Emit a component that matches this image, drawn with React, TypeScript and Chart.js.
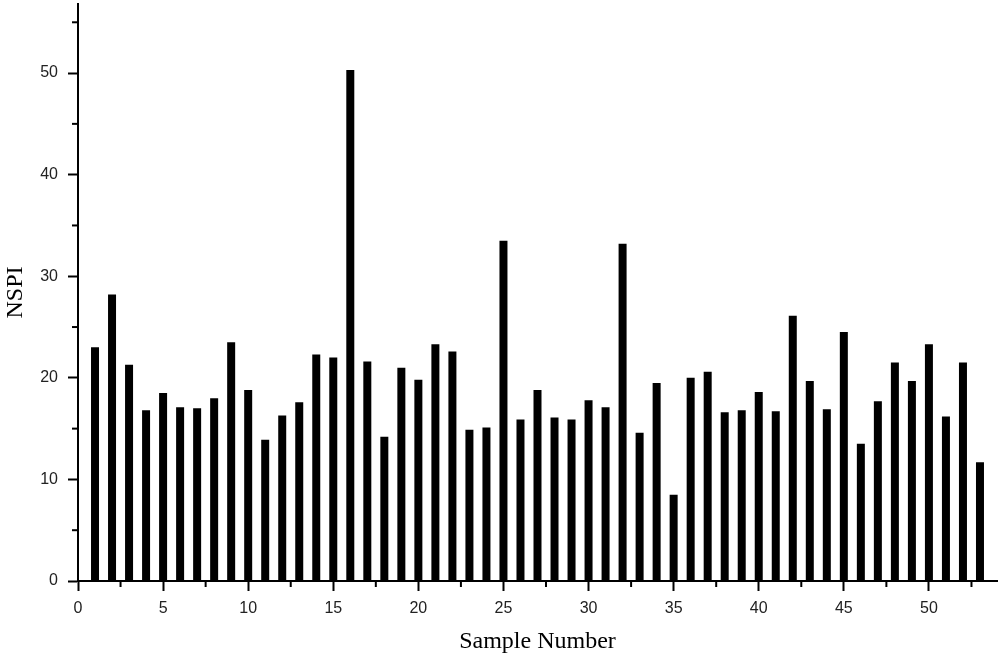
import React, { useEffect, useRef } from "react";
import { Chart, registerables } from "chart.js";

Chart.register(...registerables);

const sampleNumbers = [
  1, 2, 3, 4, 5, 6, 7, 8, 9, 10, 11, 12, 13, 14, 15, 16, 17, 18, 19, 20,
  21, 22, 23, 24, 25, 26, 27, 28, 29, 30, 31, 32, 33, 34, 35, 36, 37, 38, 39, 40,
  41, 42, 43, 44, 45, 46, 47, 48, 49, 50, 51, 52, 53,
];

const nspiValues = [
  23.0, 28.2, 21.3, 16.8, 18.5, 17.1, 17.0, 18.0, 23.5, 18.8,
  13.9, 16.3, 17.6, 22.3, 22.0, 50.3, 21.6, 14.2, 21.0, 19.8,
  23.3, 22.6, 14.9, 15.1, 33.5, 15.9, 18.8, 16.1, 15.9, 17.8,
  17.1, 33.2, 14.6, 19.5, 8.5, 20.0, 20.6, 16.6, 16.8, 18.6,
  16.7, 26.1, 19.7, 16.9, 24.5, 13.5, 17.7, 21.5, 19.7, 23.3,
  16.2, 21.5, 11.7,
];

const xMin = 0;
const xMax = 54;
const xMajorStep = 5;
const xMinorStep = 2.5;
const yMin = 0;
const yMax = 56.8;
const yMajorStep = 10;
const yMinorStep = 5;

const xTitle = "Sample Number";
const yTitle = "NSPI";

const minorTicksPlugin = {
  id: "minorTicks",
  afterDraw(chart: any) {
    const ctx = chart.ctx;
    const xs = chart.scales.x;
    const ys = chart.scales.y;
    const area = chart.chartArea;
    ctx.save();
    ctx.strokeStyle = "#000";
    ctx.lineWidth = 2;
    for (let v = xMin; v <= xMax + 1e-9; v += xMinorStep) {
      if (Math.abs(v % xMajorStep) < 1e-9) continue;
      const px = xs.getPixelForValue(v);
      ctx.beginPath();
      ctx.moveTo(px, area.bottom);
      ctx.lineTo(px, area.bottom + 6);
      ctx.stroke();
    }
    for (let v = yMin; v <= yMax + 1e-9; v += yMinorStep) {
      if (Math.abs(v % yMajorStep) < 1e-9) continue;
      const py = ys.getPixelForValue(v);
      ctx.beginPath();
      ctx.moveTo(area.left, py);
      ctx.lineTo(area.left - 6, py);
      ctx.stroke();
    }
    ctx.restore();
  },
};

export default function App() {
  const canvasRef = useRef<HTMLCanvasElement | null>(null);

  useEffect(() => {
    if (!canvasRef.current) return;
    const data = sampleNumbers.map((x, i) => ({ x, y: nspiValues[i] }));
    const chart = new Chart(canvasRef.current, {
      type: "bar",
      data: {
        datasets: [
          {
            label: yTitle,
            data: data as any,
            backgroundColor: "#000",
            borderWidth: 0,
            barPercentage: 0.47,
            categoryPercentage: 1,
          },
        ],
      },
      plugins: [minorTicksPlugin],
      options: {
        animation: false,
        responsive: true,
        maintainAspectRatio: false,
        layout: { padding: { top: 4, right: 3, left: 0, bottom: 0 } },
        plugins: {
          legend: { display: false },
          tooltip: { enabled: false },
        },
        scales: {
          x: {
            type: "linear",
            min: xMin,
            max: xMax,
            offset: false,
            afterFit: (s: any) => {
              s.height = 81;
              s.paddingLeft = 0;
              s.paddingRight = 0;
            },
            afterBuildTicks: (s: any) => {
              s.ticks = s.ticks.filter((t: any) => Math.abs(t.value % xMajorStep) < 1e-9);
            },
            ticks: {
              stepSize: xMajorStep,
              color: "#222",
              padding: 8,
              font: { family: "'Liberation Sans', Arial, sans-serif", size: 16 },
              maxRotation: 0,
              autoSkip: false,
            },
            grid: {
              display: true,
              offset: false,
              drawOnChartArea: false,
              drawTicks: true,
              tickLength: 10,
              tickWidth: 2,
              tickColor: "#000",
            },
            border: { display: true, color: "#000", width: 2 },
            title: {
              display: true,
              text: xTitle,
              color: "#000",
              font: { family: "'Liberation Serif', 'Times New Roman', serif", size: 24 },
              padding: { top: 0, bottom: 6 },
            },
          },
          y: {
            type: "linear",
            min: yMin,
            max: yMax,
            afterFit: (s: any) => {
              s.width = 78;
              s.paddingTop = 0;
              s.paddingBottom = 0;
            },
            afterBuildTicks: (s: any) => {
              s.ticks = s.ticks.filter((t: any) => Math.abs(t.value % yMajorStep) < 1e-9);
            },
            ticks: {
              stepSize: yMajorStep,
              color: "#222",
              padding: 10,
              font: { family: "'Liberation Sans', Arial, sans-serif", size: 16 },
            },
            grid: {
              display: true,
              offset: false,
              drawOnChartArea: false,
              drawTicks: true,
              tickLength: 10,
              tickWidth: 2,
              tickColor: "#000",
            },
            border: { display: true, color: "#000", width: 2 },
            title: {
              display: true,
              text: yTitle,
              color: "#000",
              font: { family: "'Liberation Serif', 'Times New Roman', serif", size: 24 },
              padding: { top: 1, bottom: 0 },
            },
          },
        },
      },
    });
    return () => chart.destroy();
  }, []);

  return (
    <div style={{ position: "absolute", left: 0, top: 0, width: 1000, height: 662, background: "#fff" }}>
      <canvas ref={canvasRef} />
    </div>
  );
}
